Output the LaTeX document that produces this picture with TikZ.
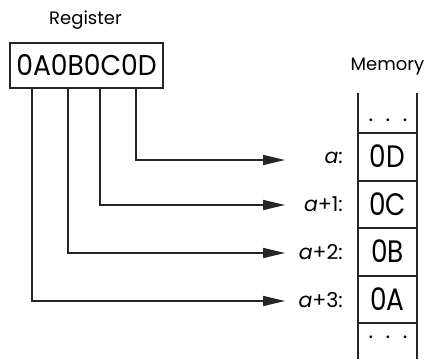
\documentclass[tikz,border=0pt]{standalone}
\usepackage{fontspec}
\setmainfont{Poppins}
\newfontfamily\regfont{Poppins}[FakeStretch=0.93]
\newfontfamily\cellfont{Poppins}[FakeStretch=0.85]
\usetikzlibrary{arrows.meta}
\begin{document}
\begin{tikzpicture}[x=1pt,y=-1pt,
  ln/.style={line width=1.6pt, draw=black!85},
  arr/.style={ln, -{Triangle[length=22pt,width=10pt]}},
  cell/.style={inner sep=0, font=\cellfont\fontsize{31}{31}\selectfont},
  dots/.style={inner sep=0, text height=3pt, text depth=0pt, font=\fontsize{22}{22}\selectfont},
  lab/.style={anchor=east, inner sep=0, font=\fontsize{20.5}{20.5}\selectfont},
  ttl/.style={inner sep=0, font=\fontsize{18}{18}\selectfont}]
\useasboundingbox (0,0) rectangle (428,359);
\node[ttl] (regt) at (85.5,20) {Register};
\node[ln, draw, minimum width=153pt, minimum height=45pt, inner sep=0,
  font=\regfont\fontsize{28.6}{28.6}\selectfont] (reg) at (86.5,65.5) {0A0B0C0D};
\node[ttl] (memt) at (387.5,67) {Memory};
% memory column
\coordinate (mtl) at (358,93);
\coordinate (mbl) at (358,359);
\coordinate (mtr) at (417,93);
\coordinate (mbr) at (417,359);
\draw[ln] (mtl) -- (mbl);
\draw[ln] (mtr) -- (mbr);
\foreach \y/\n in {133/h0,181/h1,228/h2,276/h3,323/h4}{
  \draw[ln] (358,\y) -- (417,\y);
}
\node[dots] (dtop) at (388,120) {.\hspace{12.5pt}.\hspace{12.5pt}.};
\node[dots] (dbot) at (388,337) {.\hspace{12.5pt}.\hspace{12.5pt}.};
\node[cell] (m0) at (387.5,156.5) {0D};
\node[cell] (m1) at (387.5,204) {0C};
\node[cell] (m2) at (387.5,251.5) {0B};
\node[cell] (m3) at (387.5,299) {0A};
\node[lab] (l0) at (343,158) {\itshape a\upshape :};
\node[lab] (l1) at (343,204) {\itshape a\upshape +1:};
\node[lab] (l2) at (343,252) {\itshape a\upshape +2:};
\node[lab] (l3) at (343,300) {\itshape a\upshape +3:};
\coordinate (t0) at (285,160);
\coordinate (t1) at (285,205);
\coordinate (t2) at (285,253);
\coordinate (t3) at (285,301);
\draw[arr] (reg.south -| 136,0) |- (t0);
\draw[arr] (reg.south -| 100,0) |- (t1);
\draw[arr] (reg.south -| 68,0) |- (t2);
\draw[arr] (reg.south -| 32,0) |- (t3);
\end{tikzpicture}
\end{document}
